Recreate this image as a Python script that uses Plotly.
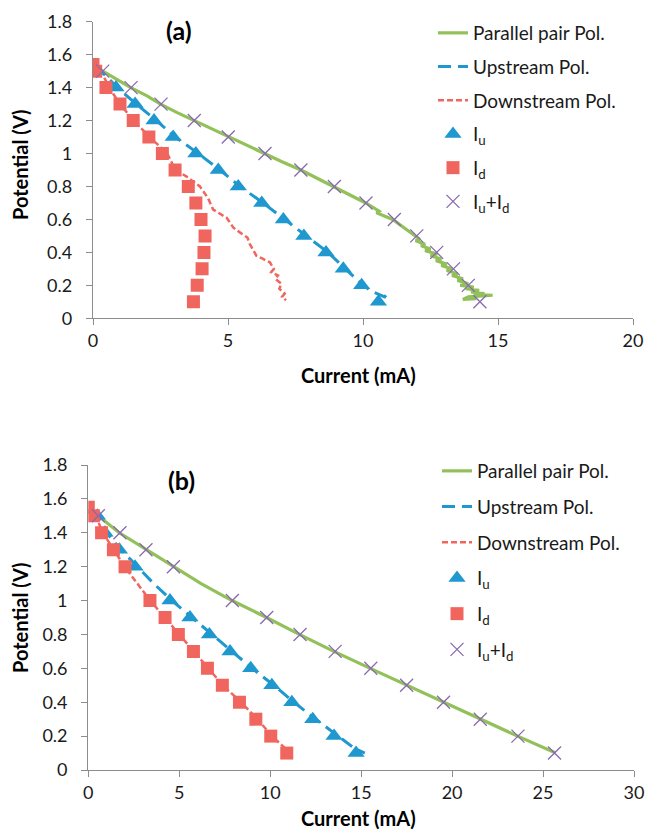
import plotly.graph_objects as go

W, H = 647, 830
FONT = "Lato"

# ---------------- Panel (a) data ----------------
a_par_x = [0.05, 0.36, 0.9, 1.4, 2.0, 2.5, 3.1, 3.75, 4.4, 5.0, 5.7, 6.35, 7.0, 7.7, 8.3, 8.9, 9.5, 10.1, 10.6,
           10.5, 11.1, 11.5, 11.9, 12.1, 11.95, 12.3, 12.15, 12.5, 12.3, 12.75, 12.5, 12.9, 12.7, 13.1, 12.9,
           13.3, 13.1, 13.5, 13.3, 13.7, 13.5, 13.9, 13.6, 14.1, 13.8, 14.3, 14.0, 14.5, 14.1, 14.8, 14.3,
           13.9, 13.7, 14.2]
a_par_y = [1.53, 1.50, 1.45, 1.40, 1.35, 1.30, 1.25, 1.20, 1.15, 1.10, 1.05, 1.00, 0.95, 0.90, 0.85, 0.80, 0.75,
           0.70, 0.65, 0.64, 0.60, 0.55, 0.50, 0.48, 0.47, 0.45, 0.44, 0.42, 0.41, 0.39, 0.38, 0.36, 0.35, 0.33,
           0.32, 0.30, 0.29, 0.27, 0.26, 0.24, 0.23, 0.21, 0.20, 0.19, 0.18, 0.17, 0.16, 0.15, 0.145, 0.14,
           0.135, 0.13, 0.115, 0.12]

a_up_x = [0.1, 0.3, 0.9, 1.6, 2.35, 3.05, 3.9, 4.7, 5.45, 6.3, 7.1, 7.9, 8.7, 9.35, 10.0, 10.37, 10.8, 10.85, 10.75]
a_up_y = [1.53, 1.50, 1.40, 1.30, 1.20, 1.10, 1.00, 0.90, 0.80, 0.70, 0.60, 0.50, 0.40, 0.30, 0.20, 0.16, 0.13, 0.14, 0.12]

a_dn_x = [0.05, 0.3, 0.6, 1.0, 1.5, 2.1, 2.75, 3.05, 3.47, 3.96, 4.26, 4.45, 4.95, 5.2, 5.45, 5.72, 5.81, 6.05, 6.3,
          6.55, 6.7, 6.6, 6.85, 6.75, 6.98, 6.9, 7.1, 7.0, 7.15]
a_dn_y = [1.55, 1.50, 1.40, 1.30, 1.20, 1.10, 1.00, 0.90, 0.86, 0.80, 0.73, 0.66, 0.61, 0.55, 0.52, 0.49, 0.45, 0.38,
          0.36, 0.34, 0.30, 0.28, 0.26, 0.24, 0.21, 0.18, 0.15, 0.13, 0.11]

a_iu_x = [0.14, 0.85, 1.56, 2.26, 2.97, 3.81, 4.64, 5.38, 6.25, 7.05, 7.81, 8.63, 9.27, 9.95, 10.57]
a_iu_y = [1.5, 1.4, 1.3, 1.2, 1.1, 1.0, 0.9, 0.8, 0.7, 0.6, 0.5, 0.4, 0.3, 0.2, 0.1]

a_id_x = [0.0, 0.1, 0.48, 1.0, 1.49, 2.07, 2.57, 3.04, 3.53, 3.81, 4.0, 4.15, 4.11, 4.04, 3.86, 3.72]
a_id_y = [1.54, 1.5, 1.4, 1.3, 1.2, 1.1, 1.0, 0.9, 0.8, 0.7, 0.6, 0.5, 0.4, 0.3, 0.2, 0.1]

a_sum_x = [0.36, 1.41, 2.52, 3.75, 5.01, 6.37, 7.7, 8.94, 10.11, 11.16, 11.99, 12.73, 13.35, 13.9, 14.33]
a_sum_y = [1.5, 1.4, 1.3, 1.2, 1.1, 1.0, 0.9, 0.8, 0.7, 0.6, 0.5, 0.4, 0.3, 0.2, 0.1]

# ---------------- Panel (b) data ----------------
b_par_x = [0.2, 0.55, 1.7, 3.2, 4.7, 6.2, 7.9, 9.8, 11.6, 13.5, 15.5, 17.5, 19.5, 21.5, 23.6, 25.7]
b_par_y = [1.53, 1.50, 1.40, 1.30, 1.20, 1.10, 1.00, 0.90, 0.80, 0.70, 0.60, 0.50, 0.40, 0.30, 0.20, 0.10]

b_up_x = [0.2, 0.5, 1.0, 1.8, 2.7, 3.6, 4.6, 5.7, 6.8, 7.9, 9.0, 10.2, 11.3, 12.5, 13.7, 14.6, 15.2]
b_up_y = [1.53, 1.50, 1.40, 1.30, 1.20, 1.10, 1.00, 0.90, 0.80, 0.70, 0.60, 0.50, 0.40, 0.30, 0.20, 0.13, 0.10]

b_dn_x = [0.1, 0.4, 0.8, 1.4, 2.0, 2.7, 3.4, 4.2, 5.0, 5.8, 6.6, 7.4, 8.4, 9.3, 10.1, 10.7, 11.1]
b_dn_y = [1.55, 1.50, 1.40, 1.30, 1.20, 1.10, 1.00, 0.90, 0.80, 0.70, 0.60, 0.50, 0.40, 0.30, 0.20, 0.14, 0.10]

b_iu_x = [0.5, 0.92, 1.71, 2.57, 4.49, 5.59, 6.66, 7.79, 8.93, 10.09, 11.19, 12.34, 13.51, 14.72]
b_iu_y = [1.5, 1.4, 1.3, 1.2, 1.0, 0.9, 0.8, 0.7, 0.6, 0.5, 0.4, 0.3, 0.2, 0.1]

b_id_x = [0.0, 0.28, 0.73, 1.38, 2.02, 3.39, 4.22, 4.95, 5.78, 6.55, 7.37, 8.31, 9.21, 10.03, 10.91]
b_id_y = [1.55, 1.5, 1.4, 1.3, 1.2, 1.0, 0.9, 0.8, 0.7, 0.6, 0.5, 0.4, 0.3, 0.2, 0.1]

b_sum_x = [0.55, 1.74, 3.17, 4.68, 7.92, 9.81, 11.64, 13.57, 15.53, 17.5, 19.53, 21.55, 23.62, 25.63]
b_sum_y = [1.5, 1.4, 1.3, 1.2, 1.0, 0.9, 0.8, 0.7, 0.6, 0.5, 0.4, 0.3, 0.2, 0.1]

names = ["Parallel pair Pol.", "Upstream Pol.", "Downstream Pol.",
         "I<sub>u</sub>", "I<sub>d</sub>", "I<sub>u</sub>+I<sub>d</sub>"]

GREEN = "#92C15A"
BLUE = "#1E98CE"
RED = "#F0665E"
PURPLE = "#8A6AAE"
AXC = "#8C8C8C"

fig = go.Figure()


def add_panel(par, up, dn, iu, idd, sm, xa, ya, leg):
    fig.add_trace(go.Scatter(x=par[0], y=par[1], mode="lines", name=names[0], legendgroup=leg + "1",
                             line=dict(color=GREEN, width=3.2), xaxis=xa, yaxis=ya, legend=leg))
    fig.add_trace(go.Scatter(x=up[0], y=up[1], mode="lines", name=names[1], legendgroup=leg + "2",
                             line=dict(color=BLUE, width=3, dash="13px,7px"), xaxis=xa, yaxis=ya, legend=leg))
    fig.add_trace(go.Scatter(x=dn[0], y=dn[1], mode="lines", name=names[2], legendgroup=leg + "3",
                             line=dict(color=RED, width=2.5, dash="6px,3px"), xaxis=xa, yaxis=ya, legend=leg))
    fig.add_trace(go.Scatter(x=iu[0], y=iu[1], mode="markers", name=names[3], legendgroup=leg + "4",
                             marker=dict(symbol="triangle-up", size=15, color=BLUE),
                             xaxis=xa, yaxis=ya, legend=leg))
    fig.add_trace(go.Scatter(x=idd[0], y=idd[1], mode="markers", name=names[4], legendgroup=leg + "5",
                             marker=dict(symbol="square", size=13, color=RED),
                             xaxis=xa, yaxis=ya, legend=leg))
    fig.add_trace(go.Scatter(x=sm[0], y=sm[1], mode="markers", name=names[5], legendgroup=leg + "6",
                             marker=dict(symbol="x-thin-open", size=13, color=PURPLE,
                                         line=dict(width=1.3, color=PURPLE)),
                             xaxis=xa, yaxis=ya, legend=leg))


add_panel((a_par_x, a_par_y), (a_up_x, a_up_y), (a_dn_x, a_dn_y), (a_iu_x, a_iu_y), (a_id_x, a_id_y),
          (a_sum_x, a_sum_y), "x", "y", "legend")
add_panel((b_par_x, b_par_y), (b_up_x, b_up_y), (b_dn_x, b_dn_y), (b_iu_x, b_iu_y), (b_id_x, b_id_y),
          (b_sum_x, b_sum_y), "x2", "y2", "legend2")


def px_x(p):
    return p / W


def px_y(p):
    return 1 - p / H


tickfont = dict(family=FONT, size=18, color="#1a1a1a")
ax_common = dict(showline=True, linecolor=AXC, linewidth=1.3, ticks="outside", ticklen=6, tickcolor=AXC,
                 tickwidth=1.3, showgrid=False, zeroline=False, tickfont=tickfont, fixedrange=True,
                 automargin=False)

legfont = dict(family=FONT, size=19, color="#1a1a1a")

fig.update_layout(
    template="none",
    width=W, height=H,
    margin=dict(l=0, r=0, t=0, b=0, autoexpand=False),
    paper_bgcolor="white", plot_bgcolor="white",
    xaxis=dict(domain=[px_x(93), px_x(633)], range=[0, 20], dtick=5, anchor="y", **ax_common),
    yaxis=dict(domain=[px_y(318.3), px_y(21.7)], range=[0, 1.8], dtick=0.2, anchor="x",
               ticklabelstandoff=10, **ax_common),
    xaxis2=dict(domain=[px_x(88.3), px_x(634)], range=[0, 30], dtick=5, anchor="y2", **ax_common),
    yaxis2=dict(domain=[px_y(770), px_y(465)], range=[0, 1.8], dtick=0.2, anchor="x2",
                ticklabelstandoff=10, **ax_common),
    legend=dict(x=px_x(433), y=px_y(14), xanchor="left", yanchor="top", font=legfont,
                bgcolor="rgba(0,0,0,0)", tracegroupgap=6, traceorder="grouped"),
    legend2=dict(x=px_x(437), y=px_y(452), xanchor="left", yanchor="top", font=legfont,
                 bgcolor="rgba(0,0,0,0)", tracegroupgap=8, traceorder="grouped"),
    showlegend=True,
)

ann = []
for (txt, x, y, ang, size) in [
    ("<b>Potential (V)</b>", 20, 165, -90, 20),
    ("<b>Current (mA)</b>", 358, 375, 0, 20),
    ("<b>(a)</b>", 179, 30, 0, 25),
    ("<b>Potential (V)</b>", 20, 618, -90, 20),
    ("<b>Current (mA)</b>", 358, 818, 0, 20),
    ("<b>(b)</b>", 181, 480, 0, 25),
]:
    ann.append(dict(text=txt, x=px_x(x), y=px_y(y), xref="paper", yref="paper", showarrow=False,
                    textangle=ang, xanchor="center", yanchor="middle",
                    font=dict(family=FONT, size=size, color="#000000")))
fig.update_layout(annotations=ann)

fig.write_html("out.html")
